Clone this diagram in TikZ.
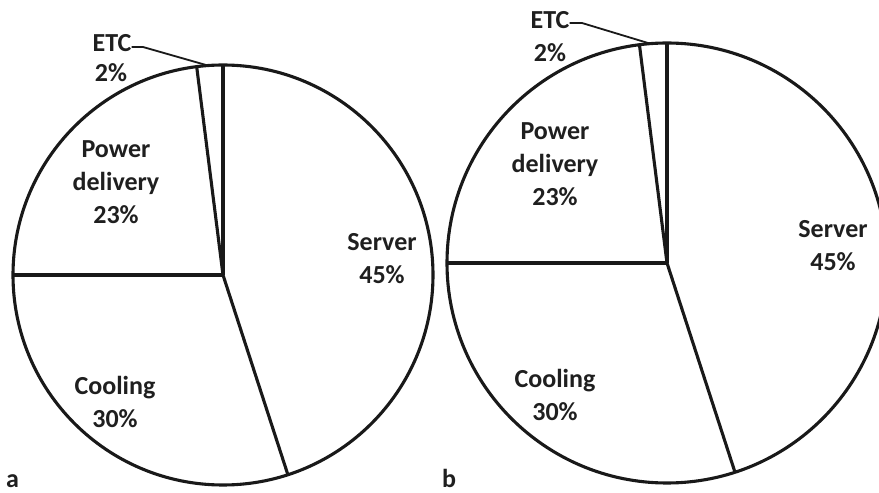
\documentclass[tikz,border=0pt]{standalone}
\usepackage{fontspec}
\setmainfont{Carlito}
\begin{document}
\begin{tikzpicture}[x=1pt,y=1pt,
  pieline/.style={draw=black!90, line width=3.1pt, line join=round},
  lbl/.style={font=\bfseries\fontsize{26}{33}\selectfont, text=black!88, align=center, inner sep=0pt},
  tag/.style={font=\bfseries\fontsize{26}{30}\selectfont, text=black!88, inner sep=0pt},
  leader/.style={draw=black!90, line width=1.8pt}]
\useasboundingbox (0,0) rectangle (879,493);
\fill[white] (0,0) rectangle (879,493);
% ---------- pie a ----------
\coordinate (ca) at (223,218);
\draw[pieline] (ca) circle (210);
\draw[pieline] (ca) -- ++(90:210);
\draw[pieline] (ca) -- ++(-72:210);
\draw[pieline] (ca) -- ++(180:210);
\draw[pieline] (ca) -- ++(97.2:210);
\node[lbl] (etca) at (112,450) {ETC};
\node[lbl] (pa2) at (111,420) {2\%};
\node[lbl] (powa) at (116,311) {Power\\delivery\\23\%};
\node[lbl] (sera) at (382,234) {Server\\45\%};
\node[lbl] (cola) at (115,91) {Cooling\\30\%};
\node[tag, anchor=base west] (la) at (6,5) {a};
\coordinate (ka) at (143,446);
\coordinate (ea) at (206,428);
\draw[leader] (etca.east |- ka) -- (ka) -- (ea);
% ---------- pie b ----------
\coordinate (cb) at (667,230);
\draw[pieline] (cb) circle (220);
\draw[pieline] (cb) -- ++(90:220);
\draw[pieline] (cb) -- ++(-72:220);
\draw[pieline] (cb) -- ++(180:220);
\draw[pieline] (cb) -- ++(97.2:220);
\node[lbl] (etcb) at (550,473) {ETC};
\node[lbl] (pb2) at (550,440) {2\%};
\node[lbl] (powb) at (555,329) {Power\\delivery\\23\%};
\node[lbl] (serb) at (833,247) {Server\\45\%};
\node[lbl] (colb) at (555,98) {Cooling\\30\%};
\node[tag, anchor=base west] (lb) at (442,5) {b};
\coordinate (kb) at (582,470);
\coordinate (eb) at (648,450);
\draw[leader] (etcb.east |- kb) -- (kb) -- (eb);
\end{tikzpicture}
\end{document}
